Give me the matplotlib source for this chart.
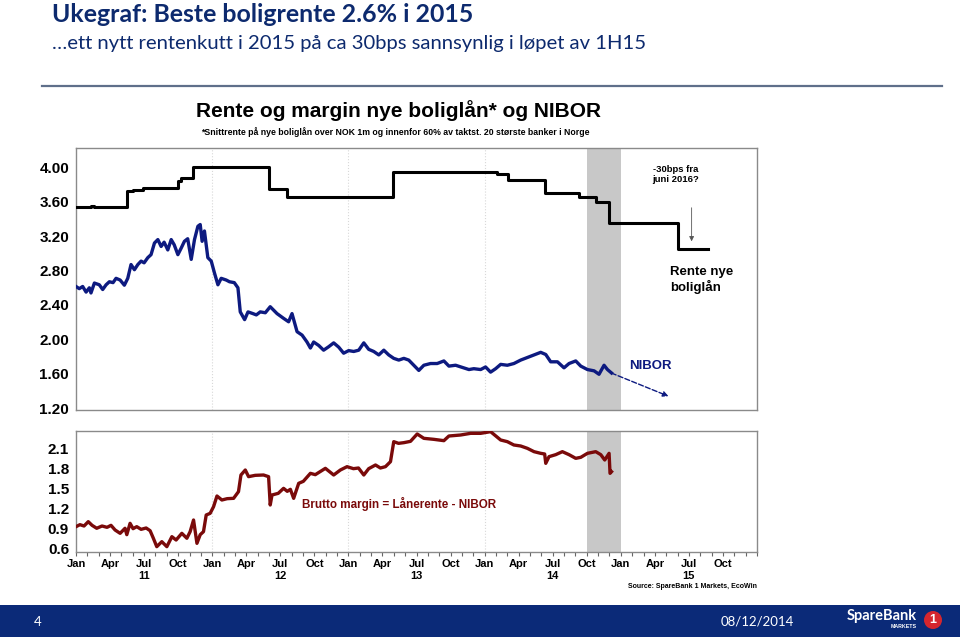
import matplotlib.pyplot as plt
from matplotlib.patches import Rectangle, Ellipse
from matplotlib.lines import Line2D
from matplotlib.ticker import MultipleLocator

# Rente nye boliglån (trappetrinn), desimalår / %
rente_t = [2011.000, 2011.110, 2011.130, 2011.375, 2011.420, 2011.490, 2011.750, 2011.770,
           2011.820, 2011.860, 2012.420, 2012.550, 2013.330, 2014.090, 2014.170, 2014.440,
           2014.690, 2014.820, 2014.910, 2015.420, 2015.640]
rente_v = [3.54, 3.55, 3.54, 3.72, 3.74, 3.76, 3.84, 3.87,
           3.88, 4.00, 3.75, 3.65, 3.95, 3.92, 3.85, 3.70,
           3.655, 3.60, 3.35, 3.05, 3.05]

# NIBOR 3M
nibor_t = [2011.000, 2011.024, 2011.049, 2011.074, 2011.098, 2011.110, 2011.135, 2011.171,
           2011.196, 2011.221, 2011.245, 2011.272, 2011.294, 2011.324, 2011.355, 2011.380,
           2011.404, 2011.429, 2011.454, 2011.478, 2011.500, 2011.527, 2011.551, 2011.576,
           2011.601, 2011.625, 2011.647, 2011.674, 2011.699, 2011.721, 2011.748, 2011.772,
           2011.796, 2011.820, 2011.846, 2011.870, 2011.895, 2011.912, 2011.926, 2011.943,
           2011.968, 2011.993, 2012.017, 2012.042, 2012.066, 2012.103, 2012.127, 2012.162,
           2012.189, 2012.206, 2012.238, 2012.263, 2012.299, 2012.324, 2012.353, 2012.390,
           2012.426, 2012.476, 2012.524, 2012.561, 2012.586, 2012.623, 2012.660, 2012.696,
           2012.721, 2012.745, 2012.782, 2012.818, 2012.855, 2012.892, 2012.929, 2012.965,
           2013.002, 2013.039, 2013.076, 2013.113, 2013.149, 2013.186, 2013.223, 2013.260,
           2013.296, 2013.333, 2013.370, 2013.407, 2013.443, 2013.480, 2013.517, 2013.554,
           2013.603, 2013.652, 2013.701, 2013.738, 2013.787, 2013.836, 2013.885, 2013.921,
           2013.971, 2014.007, 2014.044, 2014.081, 2014.118, 2014.167, 2014.215, 2014.265,
           2014.314, 2014.363, 2014.412, 2014.449, 2014.485, 2014.535, 2014.583, 2014.620,
           2014.669, 2014.706, 2014.755, 2014.804, 2014.840, 2014.877, 2014.902, 2014.932]
nibor_v = [2.615, 2.59, 2.615, 2.55, 2.60, 2.54, 2.655, 2.635,
           2.58, 2.635, 2.67, 2.66, 2.71, 2.69, 2.63, 2.71,
           2.87, 2.81, 2.87, 2.91, 2.89, 2.95, 2.985, 3.12,
           3.16, 3.08, 3.13, 3.04, 3.16, 3.10, 2.985, 3.06,
           3.14, 3.17, 2.93, 3.16, 3.315, 3.335, 3.14, 3.26,
           2.95, 2.91, 2.77, 2.635, 2.71, 2.69, 2.67, 2.66,
           2.60, 2.32, 2.23, 2.32, 2.30, 2.285, 2.32, 2.31,
           2.38, 2.30, 2.245, 2.205, 2.30, 2.09, 2.05, 1.97,
           1.90, 1.97, 1.93, 1.875, 1.915, 1.96, 1.91, 1.84,
           1.87, 1.86, 1.875, 1.96, 1.885, 1.86, 1.82, 1.875,
           1.82, 1.78, 1.76, 1.78, 1.76, 1.70, 1.64, 1.70,
           1.72, 1.72, 1.75, 1.69, 1.70, 1.675, 1.65, 1.66,
           1.65, 1.68, 1.62, 1.66, 1.71, 1.70, 1.72, 1.76,
           1.79, 1.82, 1.85, 1.825, 1.74, 1.74, 1.67, 1.72,
           1.75, 1.69, 1.65, 1.635, 1.595, 1.70, 1.65, 1.61]

# Brutto margin = Lånerente - NIBOR
margin_t = [2011.000, 2011.029, 2011.059, 2011.090, 2011.118, 2011.152, 2011.191, 2011.228,
            2011.257, 2011.287, 2011.324, 2011.360, 2011.373, 2011.397, 2011.419, 2011.446,
            2011.478, 2011.515, 2011.544, 2011.568, 2011.593, 2011.630, 2011.667, 2011.704,
            2011.735, 2011.777, 2011.814, 2011.838, 2011.863, 2011.888, 2011.912, 2011.936,
            2011.956, 2011.985, 2012.010, 2012.035, 2012.071, 2012.110, 2012.157, 2012.193,
            2012.211, 2012.243, 2012.267, 2012.316, 2012.377, 2012.414, 2012.426, 2012.439,
            2012.485, 2012.524, 2012.551, 2012.574, 2012.598, 2012.635, 2012.669, 2012.721,
            2012.757, 2012.831, 2012.892, 2012.941, 2012.990, 2013.037, 2013.074, 2013.113,
            2013.149, 2013.199, 2013.235, 2013.272, 2013.309, 2013.333, 2013.368, 2013.407,
            2013.456, 2013.505, 2013.554, 2013.627, 2013.701, 2013.738, 2013.824, 2013.897,
            2013.971, 2014.044, 2014.118, 2014.167, 2014.215, 2014.265, 2014.314, 2014.363,
            2014.412, 2014.441, 2014.449, 2014.473, 2014.522, 2014.571, 2014.620, 2014.669,
            2014.706, 2014.755, 2014.816, 2014.853, 2014.882, 2014.914, 2014.921, 2014.932]
margin_v = [0.92, 0.95, 0.93, 0.995, 0.94, 0.896, 0.93, 0.91,
            0.94, 0.87, 0.82, 0.896, 0.80, 0.97, 0.89, 0.92,
            0.88, 0.90, 0.86, 0.746, 0.62, 0.695, 0.62, 0.77,
            0.72, 0.82, 0.746, 0.845, 1.02, 0.67, 0.80, 0.845,
            1.095, 1.12, 1.22, 1.38, 1.32, 1.34, 1.345, 1.445,
            1.695, 1.77, 1.67, 1.69, 1.695, 1.67, 1.245, 1.395,
            1.42, 1.495, 1.45, 1.48, 1.345, 1.57, 1.60, 1.72,
            1.70, 1.795, 1.695, 1.77, 1.82, 1.79, 1.80, 1.695,
            1.79, 1.845, 1.80, 1.82, 1.895, 2.195, 2.17, 2.18,
            2.20, 2.31, 2.245, 2.23, 2.21, 2.28, 2.295, 2.32,
            2.32, 2.345, 2.22, 2.195, 2.145, 2.13, 2.095, 2.045,
            2.02, 2.01, 1.87, 1.97, 2.00, 2.045, 2.00, 1.945,
            1.96, 2.02, 2.045, 2.00, 1.92, 2.02, 1.72, 1.745]

months = ['Jan', 'Apr', 'Jul', 'Oct']
years = ['11', '12', '13', '14', '15']
top_yticks = [1.20, 1.60, 2.00, 2.40, 2.80, 3.20, 3.60, 4.00]
bot_yticks = [0.6, 0.9, 1.2, 1.5, 1.8, 2.1]

NAVY = '#0d2a6e'
BLUE = '#0d1a80'
RED = '#7a0a0a'
GRAY = '#c8c8c8'
ARIAL = ['Liberation Sans', 'DejaVu Sans']
CAL = ['Lato', 'DejaVu Sans']

fig = plt.figure(figsize=(9.6, 6.4), dpi=100)
W, H = 960.0, 640.0

def fx(px):
    return px / W

def fy(py):
    return 1 - py / H

# slide headings
fig.text(fx(52), fy(15), 'Ukegraf: Beste boligrente 2.6% i 2015', family=CAL,
         fontweight='bold', fontsize=17.9, color=NAVY, va='center', ha='left')
fig.text(fx(52), fy(43), '…ett nytt rentenkutt i 2015 på ca 30bps sannsynlig i løpet av 1H15',
         family=CAL, fontsize=14.6, color=NAVY, va='center', ha='left')
fig.add_artist(Line2D([fx(42), fx(942)], [fy(86), fy(86)], color='#5f6f8a', lw=1.6))

fig.text(fx(398), fy(111), 'Rente og margin nye boliglån* og NIBOR', family=ARIAL,
         fontweight='bold', fontsize=15, ha='center', va='center')
fig.text(fx(395), fy(132), '*Snittrente på nye boliglån over NOK 1m og innenfor 60% av taktst. '
         '20 største banker i Norge', family=ARIAL, fontweight='bold', fontsize=6.3,
         ha='center', va='center')

# panels
ax1 = fig.add_axes([fx(76), fy(410), (757 - 76) / W, (410 - 147.5) / H])
ax2 = fig.add_axes([fx(76), fy(552), (757 - 76) / W, (552 - 431) / H])

for ax in (ax1, ax2):
    ax.set_xlim(2011.0, 2016.0)
    ax.axvspan(2014.75, 2015.0, color=GRAY, lw=0, zorder=0)
    for yr in (2012, 2013, 2014):
        ax.axvline(yr, color='#d8d8d8', ls=':', lw=0.8, zorder=0)
    for s in ax.spines.values():
        s.set_color('#8a8a8a')
        s.set_linewidth(1.0)
    ax.tick_params(axis='y', length=0, pad=5, labelsize=11)

ax1.plot(rente_t, rente_v, drawstyle='steps-post', color='black', lw=2.2, zorder=3)
ax1.plot(nibor_t, nibor_v, color=BLUE, lw=2.4, zorder=3)
ax1.set_ylim(1.18, 4.23)
ax1.set_yticks(top_yticks)
ax1.set_yticklabels(['%.2f' % v for v in top_yticks], family=ARIAL, fontweight='bold')
ax1.tick_params(axis='x', bottom=False, labelbottom=False)

ax1.annotate('', xy=(2015.35, 1.34), xytext=(2014.93, 1.61),
             arrowprops=dict(arrowstyle='-|>', ls='--', color=BLUE, lw=1.0,
                             mutation_scale=8, shrinkA=0, shrinkB=0))
ax1.annotate('', xy=(2015.52, 3.14), xytext=(2015.52, 3.53),
             arrowprops=dict(arrowstyle='-|>', color='#555555', lw=0.6,
                             mutation_scale=7, shrinkA=0, shrinkB=0))
ax1.text(2015.40, 3.92, '-30bps fra\njuni 2016?', family=ARIAL, fontweight='bold',
         fontsize=6.8, ha='center', va='center', linespacing=1.1)
ax1.text(2015.36, 2.69, 'Rente nye\nboliglån', family=ARIAL, fontweight='bold',
         fontsize=9.5, ha='left', va='center', linespacing=1.15)
ax1.text(2015.06, 1.69, 'NIBOR', family=ARIAL, fontweight='bold', fontsize=9.5,
         color=BLUE, ha='left', va='center')

ax2.plot(margin_t, margin_v, color=RED, lw=2.4, zorder=3)
ax2.set_ylim(0.54, 2.355)
ax2.set_yticks(bot_yticks)
ax2.set_yticklabels(['%.1f' % v for v in bot_yticks], family=ARIAL, fontweight='bold')
ax2.text(2012.66, 1.26, 'Brutto margin = Lånerente - NIBOR', family=ARIAL,
         fontweight='bold', fontsize=8.4, color=RED, ha='left', va='center')

xt, xl = [], []
for i, yy in enumerate(years):
    for j, m in enumerate(months):
        xt.append(2011 + i + j / 4)
        xl.append(m + '\n' + yy if m == 'Jul' else m)
ax2.set_xticks(xt)
ax2.set_xticklabels(xl, family=ARIAL, fontweight='bold', fontsize=8, linespacing=1.3)
ax2.xaxis.set_minor_locator(MultipleLocator(1 / 12))
ax2.tick_params(axis='x', which='both', length=3, width=0.8, color='#666666', pad=2)

fig.text(fx(757), fy(587), 'Source: SpareBank 1 Markets, EcoWin', family=ARIAL,
         fontweight='bold', fontsize=5, ha='right', va='center')

# footer band
fig.add_artist(Rectangle((0, fy(637)), 1, (637 - 605) / H, transform=fig.transFigure,
                         color='#0b2a78', lw=0))
fig.text(fx(38), fy(622), '4', family=CAL, fontsize=9.5, color='white', ha='center', va='center')
fig.text(fx(757), fy(622), '08/12/2014', family=CAL, fontsize=9.5, color='white',
         ha='center', va='center')
fig.text(fx(917), fy(616), 'SpareBank', family=CAL, fontweight='bold', fontsize=10.5,
         color='white', ha='right', va='center')
fig.text(fx(917), fy(626), 'MARKETS', family=ARIAL, fontweight='bold', fontsize=3.8,
         color='white', ha='right', va='center')
fig.add_artist(Ellipse((fx(933), fy(620)), 18 / W, 18 / H, transform=fig.transFigure,
                       color='#d6262e', lw=0))
fig.text(fx(933), fy(620), '1', family=ARIAL, fontweight='bold', fontsize=9,
         color='white', ha='center', va='center')

fig.savefig('out.png', dpi=100)
